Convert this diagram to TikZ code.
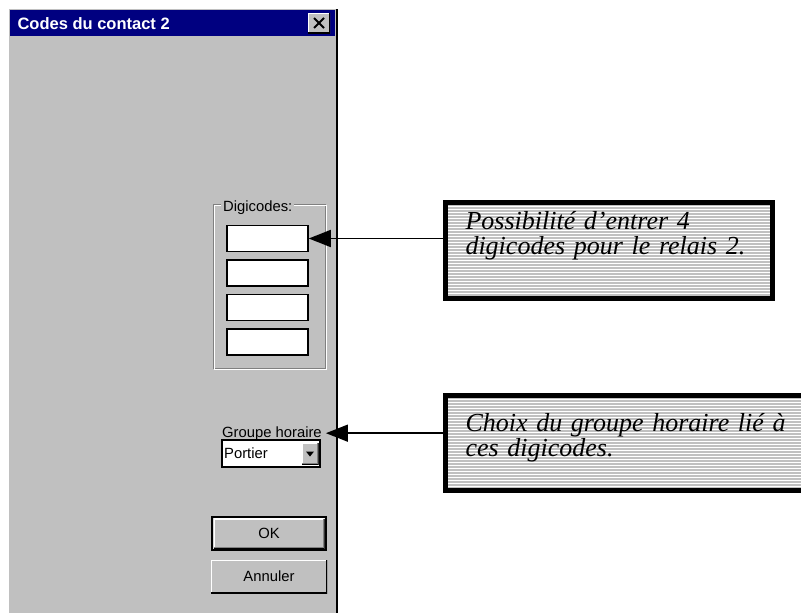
\documentclass[tikz,border=0pt]{standalone}
\usepackage{fontspec}
\setmainfont{Liberation Serif}
\setsansfont{Liberation Sans}
\usetikzlibrary{arrows.meta}
\definecolor{winbg}{RGB}{192,192,192}
\definecolor{titleblue}{RGB}{0,0,128}
\definecolor{bevel}{RGB}{128,128,128}
\tikzset{
  dlg/.style={font=\sffamily\fontsize{14.8}{16}\selectfont},
  raised/.style={fill=winbg, inner sep=0, path picture={
    \draw[white,line width=2pt] (path picture bounding box.south west) -- (path picture bounding box.north west) -- (path picture bounding box.north east);
    \draw[bevel,line width=3pt] (path picture bounding box.north east) -- (path picture bounding box.south east) -- (path picture bounding box.south west);
    \draw[black,line width=1.5pt] (path picture bounding box.north east) -- (path picture bounding box.south east) -- (path picture bounding box.south west);}},
  field/.style={draw=black, line width=1.5pt, fill=white, inner sep=0, minimum width=81pt, minimum height=26pt},
  callout/.style={draw=black, line width=5pt, fill=winbg, inner xsep=20.5pt, inner ysep=0,
    align=left, font=\itshape\fontsize{26}{25}\selectfont, path picture={
    \foreach \k in {0,...,40}
      \draw[white,line width=1pt] ([yshift=-\k*3pt-1pt]path picture bounding box.north west) -- ([yshift=-\k*3pt-1pt]path picture bounding box.north east);}},
  arrow/.style={line width=1.5pt, -{Triangle[length=22pt,width=17pt]}}
}
\begin{document}
\begin{tikzpicture}[x=1pt,y=-1pt]
\useasboundingbox (0,0) rectangle (801,613);
\clip (0,0) rectangle (801,613);
\fill[white] (0,0) rectangle (801,613);
\fill[winbg] (9,9) rectangle (336,620);
\draw[line width=2pt] (337,9) -- (337,620);
\fill[titleblue] (10,10) rectangle (335,36);
\node[anchor=base west, text=white, font=\sffamily\bfseries\fontsize{16.5}{18}\selectfont] (title) at (14,30) {Codes du contact 2};
\node[raised, minimum width=22pt, minimum height=20pt] (close) at (319,23) {};
\draw[line width=2pt] ([shift={(-5pt,-5pt)}]close.center) -- ([shift={(5pt,5pt)}]close.center);
\draw[line width=2pt] ([shift={(-5pt,5pt)}]close.center) -- ([shift={(5pt,-5pt)}]close.center);

\draw[bevel] (213,204) rectangle (325,368);
\draw[white] (214,205) rectangle (326,369);
\node[dlg, fill=winbg, anchor=base west, inner xsep=2pt, inner ysep=0] (digi) at (221,211) {Digicodes:};
\node[field] (code1) at (267.5,238.5) {};
\node[field] (code2) at (267.5,273) {};
\node[field] (code3) at (267.5,307.5) {};
\node[field] (code4) at (267.5,342) {};

\node[dlg, anchor=base west, inner xsep=4pt] (horaire) at (218,437) {Groupe horaire};
\node[field, minimum width=98pt, minimum height=27pt, line width=1.5pt] (combo) at (271,453.5) {};
\node[dlg, anchor=base west, inner sep=0] (portier) at (224,458) {Portier};
\node[raised, minimum width=17pt, minimum height=22pt] (drop) at (310,453.5) {};
\fill ([shift={(-4pt,2pt)}]drop.center) -- ([shift={(4pt,2pt)}]drop.center) -- ([shift={(0pt,-3pt)}]drop.center) -- cycle;

\node[draw=black, line width=2pt, minimum width=114pt, minimum height=33pt, inner sep=0] (okframe) at (269,533.5) {};
\node[raised, dlg, minimum width=111pt, minimum height=30pt] (ok) at (269,533.5) {OK};
\node[raised, dlg, minimum width=116pt, minimum height=33pt] (annuler) at (269,576.5) {Annuler};

\node[callout, anchor=north west, text width=286pt, text height=27.5pt, text depth=68.5pt] (note1) at (442.5,199.5)
  {Possibilité d’entrer 4\\digicodes pour le relais 2.};
\node[callout, anchor=north west, text width=345pt, text height=36.5pt, text depth=58.5pt] (note2) at (442.5,392.5)
  {Choix du groupe horaire lié à\\ces digicodes.};

\draw[arrow] (code1.east -| note1.west) -- (code1.east);
\draw[arrow] (horaire.east -| note2.west) -- (horaire.east);
\end{tikzpicture}
\end{document}
